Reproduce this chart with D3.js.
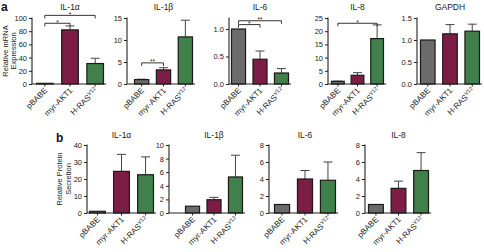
<!DOCTYPE html>
<html>
<head>
<meta charset="utf-8">
<script src="https://cdn.jsdelivr.net/npm/d3@7"></script>
<style>
  body { margin: 0; background: #fff; }
  svg text { font-family: "Liberation Sans", Arial, sans-serif; }
</style>
</head>
<body>
<div id="chart"></div>
<script>
// groups shared by every panel
const groups = ["pBABE", "myr-AKT1", "H-RAS"];
const groupColors = ["#6b6b6b", "#7b1d44", "#40804a"];

// panel a: relative mRNA expression
const mrnaTitles = ["IL-1α", "IL-1β", "IL-6", "IL-8", "GAPDH"];
const mrnaMeans = [[1, 82, 31], [1, 3.2, 10.7], [1, 0.45, 0.2], [1, 3.3, 17.2], [1, 1.14, 1.2]];
const mrnaErr = [[0, 6, 8], [0.1, 0.5, 3.8], [0, 0.15, 0.08], [0.1, 1.0, 5.2], [0, 0.21, 0.16]];
const mrnaMax = [100, 15, 1.2, 25, 1.5];
const mrnaTicks = [[0, 20, 40, 60, 80, 100], [0, 5, 10, 15], [0, 0.5, 1.0], [0, 5, 10, 15, 20, 25], [0, 0.5, 1.0, 1.5]];
const mrnaTickFmt = ["d", "d", ".1f", "d", ".1f"];

// significance brackets in panel a (value = bracket height in data units)
const mrnaSig = [
    {panel: 0, from: 0, to: 1, value: 92, label: "*"},
    {panel: 0, from: 0, to: 2, value: 104, label: "*"},
    {panel: 1, from: 0, to: 1, value: 4.8, label: "**"},
    {panel: 2, from: 0, to: 1, value: 1.08, label: "*"},
    {panel: 2, from: 0, to: 2, value: 1.15, label: "**"},
    {panel: 3, from: 0, to: 2, value: 23, label: "*"}
];

// panel b: relative protein secretion
const protTitles = ["IL-1α", "IL-1β", "IL-6", "IL-8"];
const protMeans = [[1, 24.5, 22.5], [1, 1.95, 5.3], [1, 4.0, 3.85], [1, 2.9, 5.0]];
const protErr = [[0, 10, 10.5], [0, 0.35, 3.2], [0, 1.0, 2.15], [0, 0.85, 2.1]];
const protMax = [40, 10, 8, 8];
const protTicks = [[0, 10, 20, 30, 40], [0, 2, 4, 6, 8, 10], [0, 2, 4, 6, 8], [0, 2, 4, 6, 8]];

const W = 484, H = 252;
const ink = "#222";

const svg = d3.select("#chart").append("svg")
    .attr("width", W)
    .attr("height", H);

// layout of each row: axis x, bar range start/end relative to axis
const rowA = {top: 18, bottom: 84, titleY: 9.5,
    axisX: [32, 127, 229, 328, 417], r0: [4, 7, 2, 3, 3], r1: [72, 66, 60, 56, 63]};
const rowB = {top: 145, bottom: 213, titleY: 138,
    axisX: [87, 169, 269, 365], r0: [2, 16, 5, 3], r1: [67, 74, 67, 64]};

function drawPanel(row, i, title, means, errs, maxV, ticks, fmt, sigs) {
    let g = svg.append("g")
        .attr("transform", `translate(${row.axisX[i]},0)`);

    let x = d3.scaleBand()
        .domain(groups)
        .range([row.r0[i], row.r1[i]])
        .paddingInner(0.3)
        .paddingOuter(0);

    let y = d3.scaleLinear()
        .domain([0, maxV])
        .range([row.bottom, row.top]);

    let right = row.r1[i] + 2;

    // title
    g.append("text")
        .attr("x", (row.r0[i] + row.r1[i]) / 2)
        .attr("y", row.titleY)
        .attr("text-anchor", "middle")
        .attr("fill", ink)
        .style("font-size", "8.5px")
        .text(title);

    let data = groups.map((d, k) => ({g: d, v: means[k], e: errs[k], c: groupColors[k]}));

    // error bars (upper only), drawn below the bars
    let eb = g.selectAll(".err")
        .data(data.filter(d => d.e > 0))
        .enter().append("g")
        .attr("class", "err")
        .attr("stroke", "#444")
        .attr("stroke-width", 1);
    eb.append("line")
        .attr("x1", d => x(d.g) + x.bandwidth() / 2)
        .attr("x2", d => x(d.g) + x.bandwidth() / 2)
        .attr("y1", d => y(d.v))
        .attr("y2", d => y(d.v + d.e));
    eb.append("line")
        .attr("x1", d => x(d.g) + x.bandwidth() / 2 - 4.5)
        .attr("x2", d => x(d.g) + x.bandwidth() / 2 + 4.5)
        .attr("y1", d => y(d.v + d.e))
        .attr("y2", d => y(d.v + d.e));

    // bars
    g.selectAll(".bar")
        .data(data)
        .enter().append("rect")
        .attr("class", "bar")
        .attr("x", d => x(d.g) + 0.5)
        .attr("y", d => y(d.v))
        .attr("width", x.bandwidth() - 1)
        .attr("height", d => y(0) - y(d.v))
        .attr("fill", d => d.c)
        .attr("stroke", "#1a1a1a")
        .attr("stroke-width", 1.2);

    // y axis
    let yAxis = d3.axisLeft(y)
        .tickValues(ticks)
        .tickSize(3)
        .tickPadding(2)
        .tickFormat(d3.format(fmt));
    let ya = g.append("g").call(yAxis);
    ya.select(".domain").attr("stroke", ink).attr("stroke-width", 1.1)
        .attr("d", `M0,${row.top - 0.5}V${row.bottom}`);
    ya.selectAll(".tick line").attr("stroke", ink);
    ya.selectAll(".tick text").style("font-size", "7.5px").attr("fill", ink);

    // x baseline with small ticks
    g.append("line")
        .attr("x1", 0).attr("x2", right)
        .attr("y1", row.bottom).attr("y2", row.bottom)
        .attr("stroke", ink).attr("stroke-width", 1.1);
    g.selectAll(".xtick")
        .data(groups)
        .enter().append("line")
        .attr("class", "xtick")
        .attr("x1", d => x(d) + x.bandwidth() / 2)
        .attr("x2", d => x(d) + x.bandwidth() / 2)
        .attr("y1", row.bottom)
        .attr("y2", row.bottom + 2.5)
        .attr("stroke", ink);

    // rotated group labels
    let lab = g.selectAll(".xlab")
        .data(groups)
        .enter().append("text")
        .attr("class", "xlab")
        .attr("text-anchor", "end")
        .attr("fill", ink)
        .style("font-size", "8px")
        .attr("transform", d => `translate(${x(d) + x.bandwidth() / 2 + 3},${row.bottom + 7})rotate(-45)`);
    lab.filter(d => d !== "H-RAS").text(d => d);
    let ras = lab.filter(d => d === "H-RAS");
    ras.append("tspan").text("H-RAS");
    ras.append("tspan").attr("dy", -3).style("font-size", "5.5px").text("V12");

    // significance brackets
    sigs.forEach(s => {
        let xa = x(groups[s.from]) + x.bandwidth() / 2;
        let xb = x(groups[s.to]) + x.bandwidth() / 2;
        let yy = y(s.value);
        g.append("path")
            .attr("d", `M${xa},${yy + 3}V${yy}H${xb}V${yy + 3}`)
            .attr("fill", "none")
            .attr("stroke", "#333")
            .attr("stroke-width", 1);
        g.append("text")
            .attr("x", (xa + xb) / 2)
            .attr("y", yy + 1.5)
            .attr("text-anchor", "middle")
            .attr("fill", ink)
            .style("font-size", "6.5px")
            .text(s.label);
    });
}

mrnaTitles.forEach((t, i) => {
    drawPanel(rowA, i, t, mrnaMeans[i], mrnaErr[i], mrnaMax[i], mrnaTicks[i], mrnaTickFmt[i],
        mrnaSig.filter(s => s.panel === i));
});
protTitles.forEach((t, i) => {
    drawPanel(rowB, i, t, protMeans[i], protErr[i], protMax[i], protTicks[i], "d", []);
});

// panel letters
svg.append("text").attr("x", 1).attr("y", 11).attr("fill", "#111")
    .style("font-size", "12px").style("font-weight", "bold").text("a");
svg.append("text").attr("x", 56).attr("y", 142).attr("fill", "#111")
    .style("font-size", "12px").style("font-weight", "bold").text("b");

// y axis titles
function yTitle(cx, cy, lines) {
    let t = svg.append("text")
        .attr("text-anchor", "middle")
        .attr("fill", ink)
        .style("font-size", "7.5px")
        .attr("transform", `translate(${cx},${cy})rotate(-90)`);
    lines.forEach((l, k) => {
        t.append("tspan").attr("x", 0).attr("dy", k === 0 ? 0 : 8.5).text(l);
    });
}
yTitle(7.5, 51, ["Relative mRNA", "Expression"]);
yTitle(62, 179, ["Relative Protein", "Secretion"]);
</script>
</body>
</html>
